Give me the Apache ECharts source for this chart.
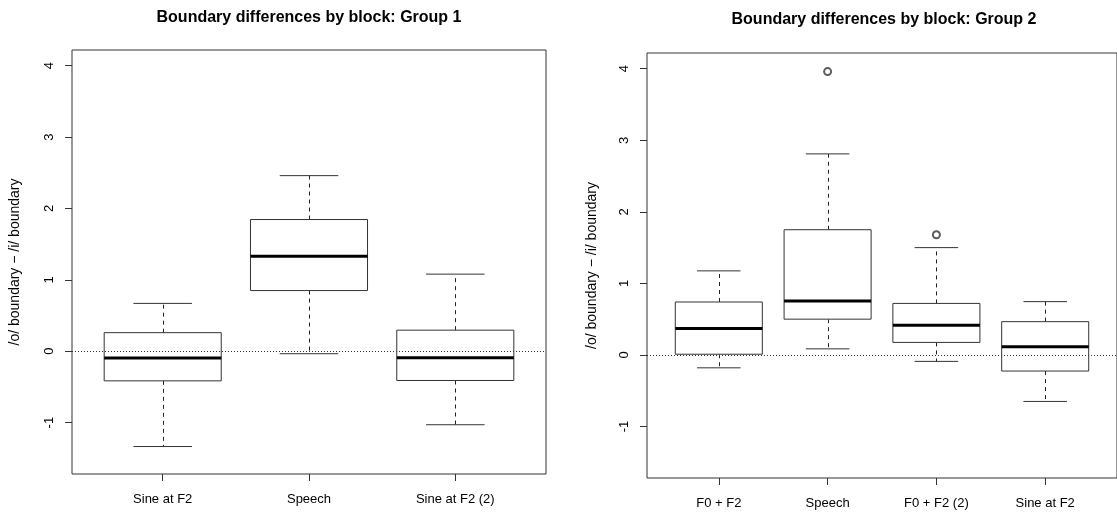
<!DOCTYPE html>
<html>
<head>
<meta charset="utf-8">
<script src="https://cdn.jsdelivr.net/npm/echarts@6/dist/echarts.min.js"></script>
<style>
  html, body { margin: 0; padding: 0; background: #fff; }
  #chart { width: 1117px; height: 512px; }
</style>
</head>
<body>
<div id="chart"></div>
<script>
// group 1 block names and box stats
var g1Cats = ["Sine at F2", "Speech", "Sine at F2 (2)"];
var g1Low = [-1.335, -0.035, -1.03];
var g1Q1 = [-0.415, 0.85, -0.41];
var g1Med = [-0.095, 1.33, -0.09];
var g1Q3 = [0.26, 1.845, 0.295];
var g1High = [0.67, 2.46, 1.08];

// group 2
var g2Cats = ["F0 + F2", "Speech", "F0 + F2 (2)", "Sine at F2"];
var g2Low = [-0.18, 0.085, -0.09, -0.65];
var g2Q1 = [0.01, 0.50, 0.175, -0.225];
var g2Med = [0.37, 0.755, 0.415, 0.115];
var g2Q3 = [0.74, 1.75, 0.72, 0.465];
var g2High = [1.175, 2.81, 1.50, 0.745];
// outliers: [block number, value]
var g2Out = [[2, 3.96], [3, 1.68]];

var yTicks = [-1, 0, 1, 2, 3, 4];
var yTitle = "/o/ boundary \u2212 /i/ boundary";
var font = "Liberation Sans, Arial, Helvetica, sans-serif";

function rows(lo, q1, md, q3, hi) {
  var out = [];
  for (var i = 0; i < lo.length; i++) {
    out.push([i + 1, lo[i], q1[i], md[i], q3[i], hi[i]]);
  }
  return out;
}

// R style box: dashed whiskers, short caps, thick median
function renderBox(params, api) {
  var x = api.value(0);
  var pLo = api.coord([x, api.value(1)]);
  var pQ1 = api.coord([x, api.value(2)]);
  var pMd = api.coord([x, api.value(3)]);
  var pQ3 = api.coord([x, api.value(4)]);
  var pHi = api.coord([x, api.value(5)]);
  var bl = api.coord([x - 0.4, 0])[0];
  var br = api.coord([x + 0.4, 0])[0];
  var cl = api.coord([x - 0.2, 0])[0];
  var cr = api.coord([x + 0.2, 0])[0];
  var cx = Math.round(pMd[0]) + 0.5;
  var dash = { stroke: "#222", lineWidth: 1, lineDash: [4, 4] };
  var solid = { stroke: "#333", lineWidth: 1 };
  return {
    type: "group",
    children: [
      { type: "line", shape: { x1: cx, y1: pQ3[1], x2: cx, y2: pHi[1] }, style: dash },
      { type: "line", shape: { x1: cx, y1: pQ1[1], x2: cx, y2: pLo[1] }, style: dash },
      { type: "line", shape: { x1: cl, y1: pHi[1], x2: cr, y2: pHi[1] }, style: solid },
      { type: "line", shape: { x1: cl, y1: pLo[1], x2: cr, y2: pLo[1] }, style: solid },
      { type: "rect", shape: { x: bl, y: pQ3[1], width: br - bl, height: pQ1[1] - pQ3[1] },
        style: { fill: "#fff", stroke: "#333", lineWidth: 1 } },
      { type: "line", shape: { x1: bl, y1: pMd[1], x2: br, y2: pMd[1] },
        style: { stroke: "#000", lineWidth: 3 } }
    ]
  };
}

function xAxisFor(idx, cats) {
  var vals = cats.map(function (c, i) { return i + 1; });
  var pad = (cats.length) * 0.04;
  return {
    gridIndex: idx, type: "value",
    min: 0.5 - pad, max: cats.length + 0.5 + pad,
    axisLine: { show: false, onZero: false },
    splitLine: { show: false },
    axisTick: { show: true, customValues: vals, length: 7, lineStyle: { color: "#333" } },
    axisLabel: {
      customValues: vals, margin: 19, fontSize: 13, color: "#000", fontFamily: font,
      formatter: function (v) { return cats[Math.round(v) - 1]; }
    }
  };
}

function yAxisFor(idx, gap) {
  return {
    gridIndex: idx, type: "value", min: -1.72, max: 4.22,
    name: yTitle, nameLocation: "middle", nameGap: gap, nameRotate: 90,
    nameTextStyle: { fontSize: 14, color: "#000", fontFamily: font },
    axisLine: { show: false, onZero: false },
    splitLine: { show: false },
    axisTick: { show: true, customValues: yTicks, length: 7, lineStyle: { color: "#333" } },
    axisLabel: { customValues: yTicks, rotate: 90, margin: 16, fontSize: 13, color: "#000", fontFamily: font }
  };
}

var zeroLine = {
  silent: true, symbol: "none", label: { show: false },
  lineStyle: { color: "#333", type: [1, 2], width: 1 },
  data: [{ yAxis: 0 }]
};

var chart = echarts.init(document.getElementById("chart"), null, { renderer: "canvas" });
chart.setOption({
  animation: false,
  backgroundColor: "#fff",
  title: [
    { text: "Boundary differences by block: Group 1", left: 309, top: 10, padding: 0, textAlign: "center",
      textStyle: { fontSize: 16, fontWeight: "bold", color: "#000", fontFamily: font } },
    { text: "Boundary differences by block: Group 2", left: 884, top: 12, padding: 0, textAlign: "center",
      textStyle: { fontSize: 16, fontWeight: "bold", color: "#000", fontFamily: font } }
  ],
  grid: [
    { left: 72, right: 571, top: 50, bottom: 38, show: true, borderColor: "#333", borderWidth: 1 },
    { left: 647, right: -5, top: 53, bottom: 34, show: true, borderColor: "#333", borderWidth: 1 }
  ],
  xAxis: [xAxisFor(0, g1Cats), xAxisFor(1, g2Cats)],
  yAxis: [yAxisFor(0, 50), yAxisFor(1, 48)],
  series: [
    { type: "custom", xAxisIndex: 0, yAxisIndex: 0, renderItem: renderBox,
      encode: { x: 0, y: [1, 2, 3, 4, 5] },
      data: rows(g1Low, g1Q1, g1Med, g1Q3, g1High), markLine: zeroLine, z: 3 },
    { type: "custom", xAxisIndex: 1, yAxisIndex: 1, renderItem: renderBox,
      encode: { x: 0, y: [1, 2, 3, 4, 5] },
      data: rows(g2Low, g2Q1, g2Med, g2Q3, g2High), markLine: zeroLine, z: 3 },
    { type: "scatter", xAxisIndex: 1, yAxisIndex: 1, data: g2Out,
      symbol: "emptyCircle", symbolSize: 7,
      itemStyle: { color: "#333", borderColor: "#333", borderWidth: 1 }, z: 4 }
  ]
});
</script>
</body>
</html>
